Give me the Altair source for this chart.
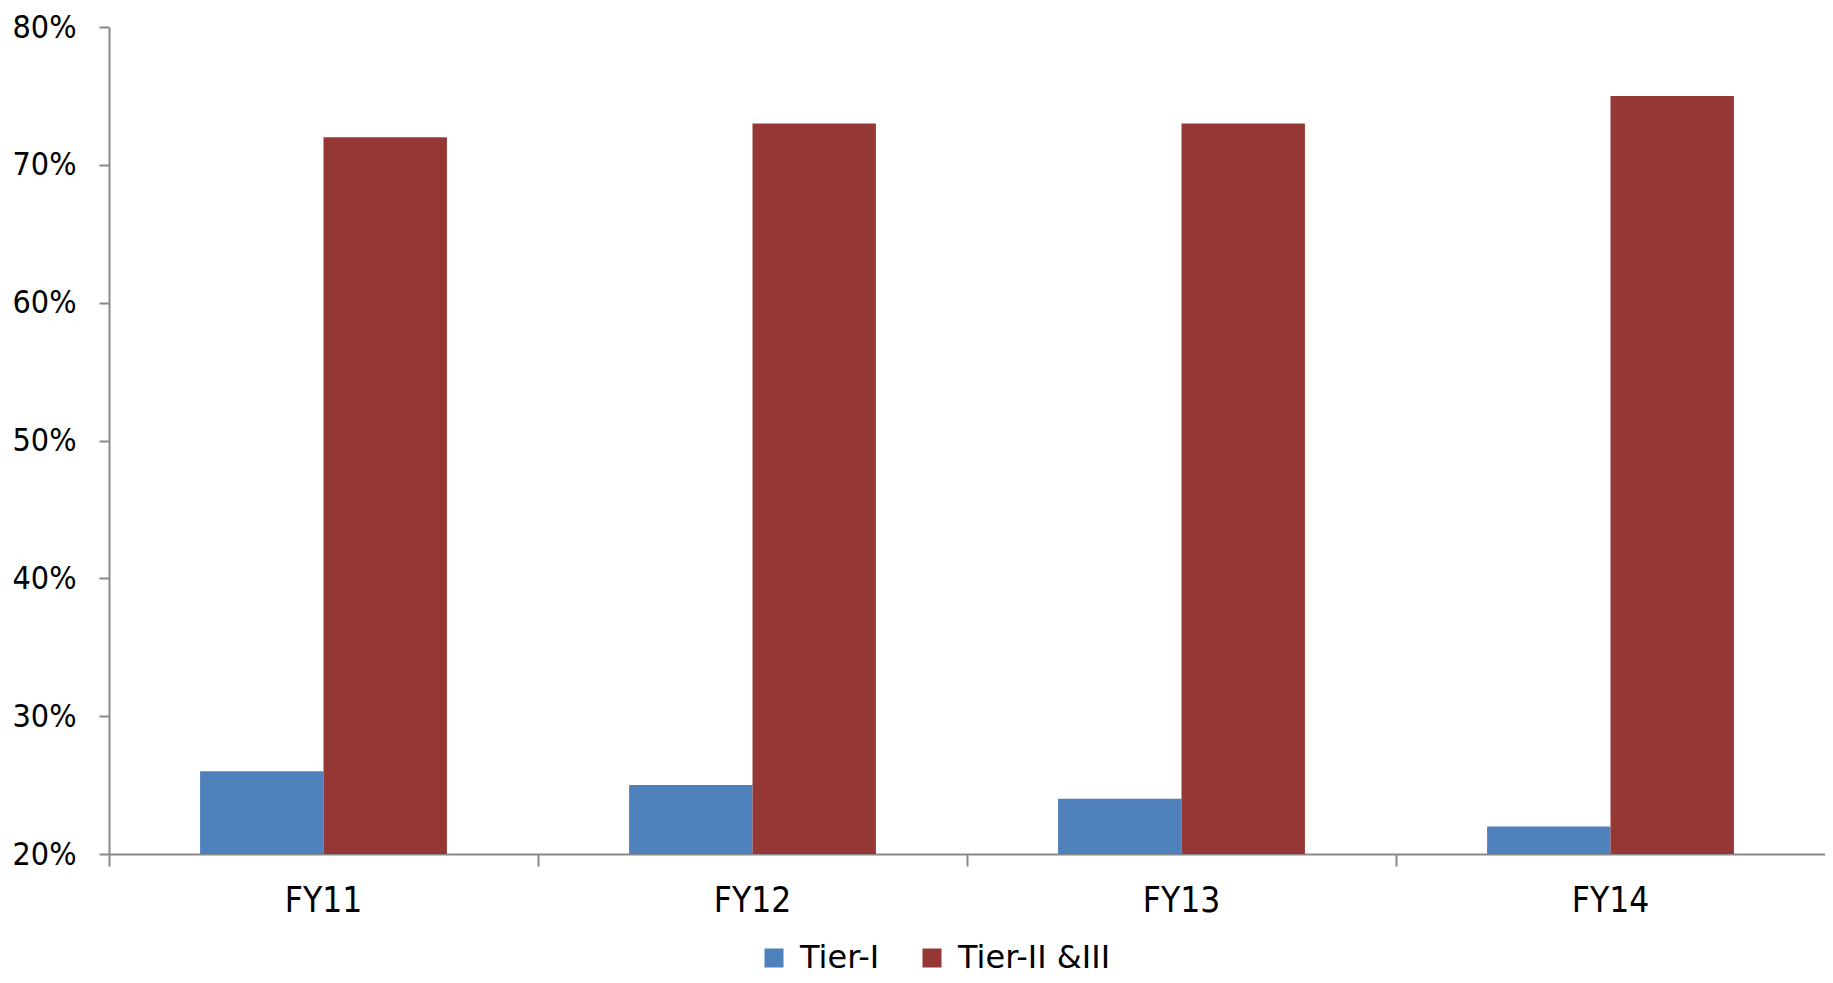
import altair as alt
import pandas as pd

categories = ["FY11", "FY12", "FY13", "FY14"]
series_names = ["Tier-I", "Tier-II &III"]
tier1 = [0.26, 0.25, 0.24, 0.22]
tier23 = [0.72, 0.73, 0.73, 0.75]
y_ticks = [0.2, 0.3, 0.4, 0.5, 0.6, 0.7, 0.8]
colors = ["#4F81BD", "#953735"]

rows = []
for c, a, b in zip(categories, tier1, tier23):
    rows.append({"cat": c, "series": series_names[0], "value": a})
    rows.append({"cat": c, "series": series_names[1], "value": b})
df = pd.DataFrame(rows)

W = 1716
H = 827
FONT = "DejaVu Sans Condensed, DejaVu Sans, sans-serif"

chart = alt.Chart(df).mark_bar(clip=True).encode(
    x=alt.X("cat:N", sort=categories, title=None,
            scale=alt.Scale(paddingInner=0, paddingOuter=0),
            axis=alt.Axis(bandPosition=0, labelAngle=0,
                          labelFont=FONT, labelFontSize=35,
                          labelColor="#000000", labelPadding=17,
                          tickSize=12, tickColor="#898989", tickWidth=2,
                          domainColor="#898989", domainWidth=2, grid=False)),
    xOffset=alt.XOffset("series:N", sort=series_names,
                        scale=alt.Scale(paddingInner=0, paddingOuter=0.738)),
    y=alt.Y("value:Q", title=None,
            scale=alt.Scale(domain=[0.2, 0.8], zero=False, nice=False),
            axis=alt.Axis(values=y_ticks, format=".0%",
                          labelFont=FONT, labelFontSize=32,
                          labelColor="#000000", labelPadding=23,
                          tickSize=10, tickColor="#898989", tickWidth=2,
                          domainColor="#898989", domainWidth=2, grid=False)),
    color=alt.Color("series:N", sort=series_names,
                    scale=alt.Scale(domain=series_names, range=colors),
                    legend=alt.Legend(title=None, orient="none", direction="horizontal",
                                      legendX=649, legendY=915,
                                      symbolType="square", symbolSize=361,
                                      symbolStrokeWidth=0,
                                      labelFont="DejaVu Sans", labelFontSize=32,
                                      labelColor="#000000", labelOffset=10,
                                      columnPadding=36, labelLimit=400)),
).properties(
    width=W, height=H,
    background="#ffffff",
    autosize=alt.AutoSizeParams(type="none"),
    padding={"left": 101, "top": 19, "right": 0, "bottom": 126},
).configure_view(stroke=None)

chart.save("out.html", embed_options={"renderer": "svg", "actions": False})
